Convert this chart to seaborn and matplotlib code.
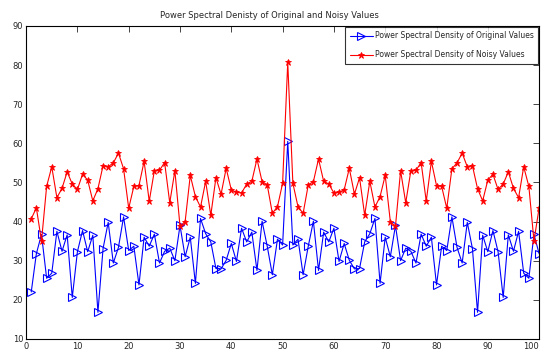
import numpy as np
import pandas as pd
import matplotlib
matplotlib.use("Agg")
import matplotlib.pyplot as plt
import seaborn as sns

# frequency bins 1..100
bins = list(range(1, 101))

# PSD of the original values (blue)
psd_original = [
    22.0, 31.8, 36.7, 25.5, 26.8, 37.5, 32.4, 36.6, 20.6, 32.3,
    37.7, 32.3, 36.5, 16.8, 33.1, 39.8, 29.4, 33.4, 41.2, 32.6,
    33.7, 23.8, 36.0, 33.7, 36.8, 29.4, 32.4, 33.2, 30.0, 39.0,
    31.0, 36.0, 24.2, 40.8, 36.9, 34.8, 28.0, 27.9, 30.1, 34.4,
    29.8, 38.3, 34.8, 37.3, 27.5, 40.1, 33.7, 26.4, 35.5, 34.0,
    60.5, 34.0, 35.5, 26.4, 33.7, 40.1, 27.5, 37.3, 34.8, 38.3,
    29.8, 34.4, 30.1, 27.9, 28.0, 34.8, 36.9, 40.8, 24.2, 36.0,
    31.0, 39.0, 30.0, 33.2, 32.4, 29.4, 36.8, 33.7, 36.0, 23.8,
    33.7, 32.6, 41.2, 33.4, 29.4, 39.8, 33.1, 16.8, 36.5, 32.3,
    37.7, 32.3, 20.6, 36.6, 32.4, 37.5, 26.8, 25.5, 36.7, 31.8,
]

# PSD of the noisy values (red)
psd_noisy = [
    40.7, 43.5, 35.0, 49.0, 54.0, 46.1, 48.5, 52.7, 49.6, 48.2,
    52.1, 50.6, 45.3, 48.4, 54.3, 54.0, 55.0, 57.5, 53.5, 43.4,
    49.0, 49.2, 55.4, 45.2, 53.0, 53.1, 55.1, 44.8, 53.0, 38.8,
    40.0, 51.8, 46.4, 43.7, 50.3, 41.6, 51.2, 47.0, 53.6, 48.1,
    47.5, 47.3, 49.6, 50.3, 56.0, 50.2, 49.4, 42.1, 43.8, 49.8,
    80.7, 49.8, 43.8, 42.1, 49.4, 50.2, 56.0, 50.3, 49.6, 47.3,
    47.5, 48.1, 53.6, 47.0, 51.2, 41.6, 50.3, 43.7, 46.4, 51.8,
    40.0, 38.8, 53.0, 44.8, 53.0, 53.1, 55.1, 45.2, 55.4, 49.2,
    49.0, 43.4, 53.5, 55.0, 57.5, 54.0, 54.3, 48.4, 45.3, 50.6,
    52.1, 48.2, 49.6, 52.7, 48.5, 46.1, 54.0, 49.0, 35.0, 43.5,
]

x_ticks = list(range(0, 101, 10))
y_ticks = list(range(10, 91, 10))

sns.set_style("white")
plt.rcParams['font.family'] = ['Liberation Sans Narrow', 'DejaVu Sans']

fig, ax = plt.subplots(figsize=(5.44, 3.56), dpi=100)
fig.subplots_adjust(left=0.048, right=0.991, bottom=0.048, top=0.927)

sns.lineplot(x=bins, y=psd_original, ax=ax, color="blue", linewidth=0.8,
             marker=">", markersize=5.5, markerfacecolor="none",
             markeredgecolor="blue", markeredgewidth=0.8,
             label="Power Spectral Density of Original Values")
sns.lineplot(x=bins, y=psd_noisy, ax=ax, color="red", linewidth=0.8,
             marker="*", markersize=5, markerfacecolor="red",
             markeredgecolor="red", markeredgewidth=0.6,
             label="Power Spectral Density of Noisy Values")

ax.set_xlim(0, 100)
ax.set_ylim(10, 90)
ax.set_xticks(x_ticks)
ax.set_yticks(y_ticks)
ax.tick_params(direction="in", top=True, right=True, length=4, width=0.6,
               labelsize=6, pad=2)
# last x label sits at the right edge of the figure, keep it inside
ax.get_xticklabels()[-1].set_horizontalalignment("right")
for s in ax.spines.values():
    s.set_color("black")
    s.set_linewidth(0.8)
ax.set_xlabel("")
ax.set_ylabel("")

ax.set_title("Power Spectral Denisty of Original and Noisy Values",
             fontsize=6, x=0.474, pad=6)

leg = ax.legend(loc="upper right", fontsize=5.5, frameon=True, fancybox=False,
                edgecolor="black", borderaxespad=0.1, handlelength=3.0,
                labelspacing=1.3, borderpad=0.6, handletextpad=0.3)
leg.get_frame().set_linewidth(0.8)

fig.savefig("out.png", dpi=100)
